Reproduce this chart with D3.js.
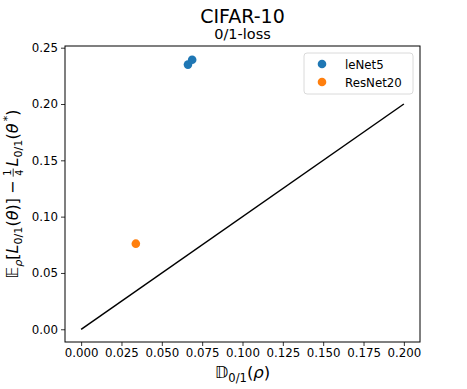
<!DOCTYPE html>
<html>
<head>
<meta charset="utf-8">
<script src="https://cdn.jsdelivr.net/npm/d3@7"></script>
<style>
  body { margin: 0; background: white; }
  svg { display: block; font-family: "DejaVu Sans", sans-serif; }
</style>
</head>
<body>
<svg width="467" height="389"></svg>
<script>
// data
var models = ["leNet5", "ResNet20"];
var modelColors = ["#1f77b4", "#ff7f0e"];
var lenetX = [0.0662, 0.0688];
var lenetY = [0.2350, 0.2393];
var resnetX = [0.0339];
var resnetY = [0.0760];
var diagX = [0, 0.2];
var diagY = [0, 0.2];
var xTicks = [0, 0.025, 0.05, 0.075, 0.1, 0.125, 0.15, 0.175, 0.2];
var yTicks = [0, 0.05, 0.1, 0.15, 0.2, 0.25];

// plot area
var margin = {top: 46, right: 47, bottom: 47, left: 65},
    width = 467 - margin.left - margin.right,
    height = 389 - margin.top - margin.bottom;

var svg = d3.select("svg");

var x = d3.scaleLinear().domain([-0.01, 0.21]).range([0, width]),
    y = d3.scaleLinear().domain([-0.0113, 0.2515]).range([height, 0]);

var g = svg.append("g")
    .attr("transform", "translate(" + margin.left + "," + margin.top + ")");

// axes
var xAxis = g.append("g")
    .attr("transform", "translate(0," + height + ")")
    .call(d3.axisBottom(x).tickValues(xTicks).tickFormat(d3.format(".3f")).tickSizeOuter(0).tickSize(4).tickPadding(3));
var yAxis = g.append("g")
    .call(d3.axisLeft(y).tickValues(yTicks).tickFormat(d3.format(".2f")).tickSizeOuter(0).tickSize(4).tickPadding(3));

[xAxis, yAxis].forEach(function (a) {
  a.select(".domain").remove();
  a.selectAll("text").style("font-size", "11.8px").attr("fill", "#000")
      .style("font-family", "DejaVu Sans");
  a.selectAll("line").attr("stroke", "#000").attr("stroke-width", 0.8);
});

// frame
g.append("rect")
    .attr("width", width)
    .attr("height", height)
    .attr("fill", "none")
    .attr("stroke", "#000")
    .attr("stroke-width", 1);

// diagonal line
var line = d3.line().x(function (d) { return x(d[0]); }).y(function (d) { return y(d[1]); });
g.append("path")
    .datum(d3.zip(diagX, diagY))
    .attr("d", line)
    .attr("fill", "none")
    .attr("stroke", "#000")
    .attr("stroke-width", 1.5);

// scatter points
var series = [d3.zip(lenetX, lenetY), d3.zip(resnetX, resnetY)];
series.forEach(function (pts, i) {
  g.append("g").selectAll("circle")
    .data(pts)
    .enter().append("circle")
      .attr("cx", function (d) { return x(d[0]); })
      .attr("cy", function (d) { return y(d[1]); })
      .attr("r", 4.3)
      .attr("fill", modelColors[i]);
});

// legend
var legend = g.append("g").attr("transform", "translate(" + (width - 116) + ",7)");
legend.append("rect")
    .attr("width", 109)
    .attr("height", 41)
    .attr("rx", 3)
    .attr("fill", "white")
    .attr("fill-opacity", 0.8)
    .attr("stroke", "#d0d0d0")
    .attr("stroke-width", 0.8);
models.forEach(function (m, i) {
  legend.append("circle")
      .attr("cx", 18)
      .attr("cy", 11 + i * 18)
      .attr("r", 4.3)
      .attr("fill", modelColors[i]);
  legend.append("text")
      .attr("x", 41)
      .attr("y", 15.5 + i * 18)
      .style("font-size", "11.8px")
      .text(m);
});

// titles
svg.append("text")
    .attr("x", margin.left + width / 2)
    .attr("y", 22.5)
    .attr("text-anchor", "middle")
    .style("font-size", "19px")
    .text("CIFAR-10");
svg.append("text")
    .attr("x", margin.left + width / 2)
    .attr("y", 39)
    .attr("text-anchor", "middle")
    .style("font-size", "14.5px")
    .text("0/1-loss");

// little helper that lays out math pieces one after another
function mathText(parent, parts, fs) {
  var cx = 0;
  parts.forEach(function (p) {
    if (p.frac) {
      var s = fs * 0.6;
      var t1 = parent.append("text").attr("x", cx + 1).attr("y", -fs * 0.42)
          .style("font-size", s + "px").text(p.frac[0]);
      var t2 = parent.append("text").attr("x", cx + 1).attr("y", fs * 0.3)
          .style("font-size", s + "px").text(p.frac[1]);
      var w = Math.max(t1.node().getComputedTextLength(), t2.node().getComputedTextLength());
      parent.append("line").attr("x1", cx).attr("x2", cx + w + 2)
          .attr("y1", -fs * 0.3).attr("y2", -fs * 0.3)
          .attr("stroke", "#000").attr("stroke-width", 0.8);
      cx += w + 4;
      return;
    }
    cx += p.pre || 0;
    var size = (p.sub || p.sup) ? fs * 0.7 : fs;
    var t = parent.append("text")
        .attr("x", cx)
        .attr("y", p.sub ? fs * 0.25 : (p.sup ? -fs * 0.42 : 0))
        .style("font-size", size + "px")
        .style("font-style", p.it ? "italic" : "normal")
        .text(p.t);
    cx += t.node().getComputedTextLength() + (p.gap || 0);
  });
  return cx;
}

// x label
var xl = svg.append("g");
var xw = mathText(xl, [
  {t: "\u{1D53B}"}, {t: "0/1", sub: true}, {t: "("}, {t: "\u03C1", it: true}, {t: ")"}
], 16.5);
xl.attr("transform", "translate(" + (margin.left + width / 2 - xw / 2) + ",378)");

// y label
var yl = svg.append("g");
var yw = mathText(yl, [
  {t: "\u{1D53C}"}, {t: "\u03C1", sub: true, it: true}, {t: "["}, {t: "L", it: true}, {t: "0/1", sub: true},
  {t: "("}, {t: "\u03B8", it: true}, {t: ")]"}, {t: "\u2212", pre: 4, gap: 4}, {frac: ["1", "4"]},
  {t: "L", it: true}, {t: "0/1", sub: true}, {t: "("}, {t: "\u03B8", it: true}, {t: "\u2009*", sup: true}, {t: ")"}
], 16);
yl.attr("transform", "translate(18," + (margin.top + height / 2 + yw / 2) + ") rotate(-90)");
</script>
</body>
</html>
